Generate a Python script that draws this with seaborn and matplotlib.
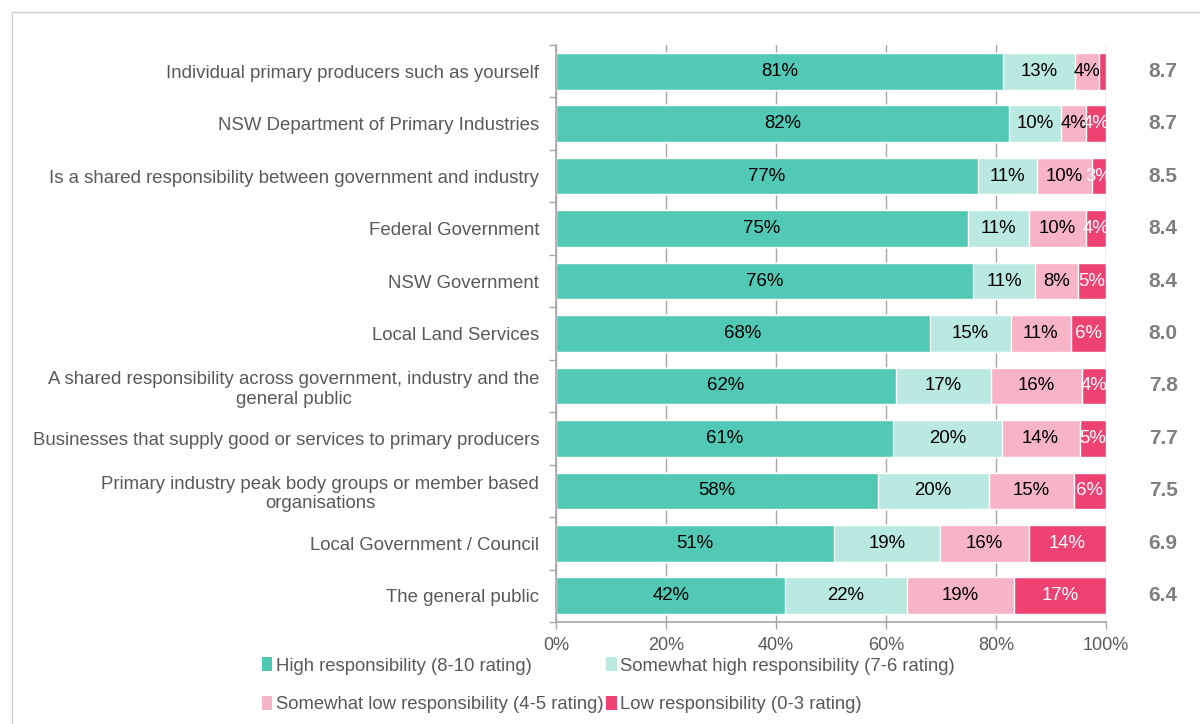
import numpy as np
import pandas as pd
import seaborn as sns
import matplotlib.pyplot as plt
import matplotlib.transforms as mtransforms
from matplotlib.patches import Patch, Rectangle


categories = [
    "Individual primary producers such as yourself",
    "NSW Department of Primary Industries",
    "Is a shared responsibility between government and industry",
    "Federal Government",
    "NSW Government",
    "Local Land Services",
    "A shared responsibility across government, industry and the\ngeneral public",
    "Businesses that supply good or services to primary producers",
    "Primary industry peak body groups or member based\norganisations",
    "Local Government / Council",
    "The general public",
]

# share of respondents (%) per rating band
high = [81.2, 82.2, 76.7, 74.9, 75.8, 68.0, 61.7, 61.3, 58.4, 50.6, 41.7]
somewhat_high = [13.2, 9.6, 10.8, 11.2, 11.3, 14.7, 17.4, 19.7, 20.2, 19.3, 22.1]
somewhat_low = [4.3, 4.4, 9.9, 10.4, 7.8, 10.9, 16.4, 14.2, 15.4, 16.1, 19.4]
low = [1.3, 3.7, 2.6, 3.6, 5.1, 6.4, 4.4, 4.8, 5.9, 14.0, 16.8]

# mean rating out of 10
mean_score = [8.7, 8.7, 8.5, 8.4, 8.4, 8.0, 7.8, 7.7, 7.5, 6.9, 6.4]

series_names = [
    "High responsibility (8-10 rating)",
    "Somewhat high responsibility (7-6 rating)",
    "Somewhat low responsibility (4-5 rating)",
    "Low responsibility (0-3 rating)",
]
colors = ["#52C9B5", "#B9E9E1", "#F7B4C6", "#EE4272"]
text_colors = ["black", "black", "black", "white"]


df = pd.DataFrame({"category": categories, "high": high, "somewhat_high": somewhat_high,
                   "somewhat_low": somewhat_low, "low": low})
cols = ["high", "somewhat_high", "somewhat_low", "low"]
cum = df[cols].cumsum(axis=1)
cum = cum.div(cum["low"], axis=0) * 100  # bars always fill to 100%
for c in cols:
    df["cum_" + c] = cum[c]

sns.set_theme(style="white")
plt.rcParams["font.family"] = ["Liberation Sans", "DejaVu Sans"]

fig, ax = plt.subplots(figsize=(12, 7.24), dpi=100)
fig.subplots_adjust(left=556 / 1200, right=1106 / 1200, top=1 - 45 / 724, bottom=1 - 622 / 724)

# draw the stacks back to front so each shorter cumulative bar covers the last
for c, color in reversed(list(zip(cols, colors))):
    sns.barplot(data=df, x="cum_" + c, y="category", color=color, saturation=1,
                width=0.7, errorbar=None, ax=ax)

# segment labels
for i in range(len(categories)):
    start = 0
    for c, tc in zip(cols, text_colors):
        end = df.loc[i, "cum_" + c]
        val = df.loc[i, c]
        if val >= 2:
            ax.text((start + end) / 2, i, f"{round(val)}%", ha="center", va="center",
                    color=tc, fontsize=13.4)
        start = end

# mean score column on the right
trans = mtransforms.blended_transform_factory(ax.transAxes, ax.transData)
for i, s in enumerate(mean_score):
    ax.text(1.104, i, f"{s:.1f}", transform=trans, ha="center", va="center",
            fontsize=15, fontweight="bold", color="#7F7F7F")

ax.set_xlim(0, 100)
ax.set_ylim(10.5, -0.5)
ax.set_xticks([0, 20, 40, 60, 80, 100])
ax.set_xticklabels([f"{t}%" for t in [0, 20, 40, 60, 80, 100]])
ax.xaxis.grid(True, color="#A6A6A6", linewidth=1)
ax.set_axisbelow(True)
ax.set_xlabel("")
ax.set_ylabel("")

for side in ["top", "right"]:
    ax.spines[side].set_visible(False)
for side in ["left", "bottom"]:
    ax.spines[side].set_color("#A6A6A6")
    ax.spines[side].set_linewidth(1.2)

ax.tick_params(axis="x", colors="#A6A6A6", labelcolor="#595959", labelsize=13,
               length=5, width=1, direction="out", bottom=True, pad=6)
ax.tick_params(axis="y", length=0, labelsize=13.4, labelcolor="#595959", pad=12)
ax.set_yticks(np.arange(-0.5, 11, 1), minor=True)
ax.tick_params(axis="y", which="minor", left=True, length=5, width=1, color="#A6A6A6")
for lbl in ax.get_yticklabels():
    lbl.set_multialignment("center")

# legend in row order: high, somewhat high / somewhat low, low
handles = [Patch(facecolor=col, edgecolor="none") for col in colors]
order = [0, 2, 1, 3]
fig.legend([handles[k] for k in order], [series_names[k] for k in order], ncol=2,
           loc="upper left", bbox_to_anchor=(253 / 1200, 1 - 648 / 724), frameon=False,
           fontsize=13.3, labelcolor="#595959", handlelength=0.55, handleheight=0.8,
           handletextpad=0.2, columnspacing=0.15, labelspacing=1.15, borderpad=0)

# light chart-area border like the original export
fig.patches.append(Rectangle((12 / 1200, -0.1), 1.2, 1.1 - 12 / 724,
                             transform=fig.transFigure, fill=False,
                             edgecolor="#D0D0D0", linewidth=1))

fig.savefig("out.png", dpi=100)
